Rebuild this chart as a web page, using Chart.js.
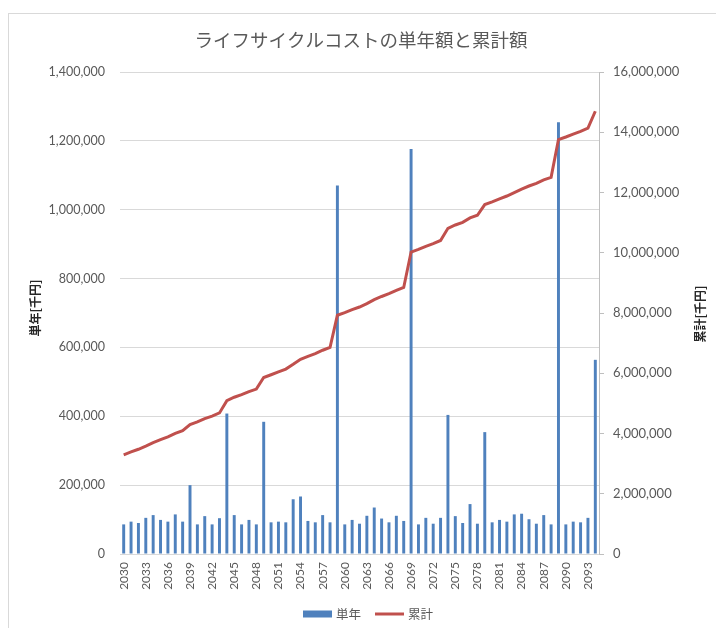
<!DOCTYPE html>
<html>
<head>
<meta charset="utf-8">
<script src="https://cdn.jsdelivr.net/npm/chart.js@4/dist/chart.umd.min.js"></script>
<style>
  html, body { margin: 0; padding: 0; background: #ffffff; }
  #wrap { position: absolute; left: 0; top: 0; width: 716px; height: 628px; }
  #frame { position: absolute; left: 8px; top: 13px; width: 800px; height: 700px;
           border-left: 1px solid #d9d9d9; border-top: 1px solid #d9d9d9; box-sizing: border-box; }
  canvas { position: absolute; left: 0; top: 0; }
</style>
</head>
<body>
<div id="wrap">
  <div id="frame"></div>
  <canvas id="c" width="716" height="628"></canvas>
</div>
<script>
const chartTitle = 'ライフサイクルコストの単年額と累計額';
const leftAxisTitle = '単年[千円]';
const rightAxisTitle = '累計[千円]';
const seriesNames = ['単年', '累計'];

const years = [
  2030,2031,2032,2033,2034,2035,2036,2037,2038,2039,
  2040,2041,2042,2043,2044,2045,2046,2047,2048,2049,
  2050,2051,2052,2053,2054,2055,2056,2057,2058,2059,
  2060,2061,2062,2063,2064,2065,2066,2067,2068,2069,
  2070,2071,2072,2073,2074,2075,2076,2077,2078,2079,
  2080,2081,2082,2083,2084,2085,2086,2087,2088,2089,
  2090,2091,2092,2093,2094
];

const singleYear = [
  86000, 94000, 90000, 105000, 113000, 99000, 94000, 115000, 94000, 200000,
  86000, 110000, 86000, 104000, 408000, 113000, 86000, 99000, 86000, 384000,
  92000, 94000, 92000, 159000, 167000, 96000, 92000, 113000, 92000, 1070000,
  86000, 99000, 88000, 111000, 135000, 103000, 92000, 111000, 96000, 1176000,
  86000, 105000, 88000, 105000, 404000, 110000, 90000, 145000, 88000, 354000,
  92000, 99000, 94000, 115000, 117000, 101000, 88000, 113000, 86000, 1254000,
  86000, 94000, 92000, 105000, 564000
];

const cumulative = [
  3293000, 3387000, 3477000, 3582000, 3695000, 3794000, 3888000, 4003000, 4097000, 4297000,
  4383000, 4493000, 4579000, 4683000, 5091000, 5204000, 5290000, 5389000, 5475000, 5859000,
  5951000, 6045000, 6137000, 6296000, 6463000, 6559000, 6651000, 6764000, 6856000, 7926000,
  8012000, 8111000, 8199000, 8310000, 8445000, 8548000, 8640000, 8751000, 8847000, 10023000,
  10109000, 10214000, 10302000, 10407000, 10811000, 10921000, 11011000, 11156000, 11244000, 11598000,
  11690000, 11789000, 11883000, 11998000, 12115000, 12216000, 12304000, 12417000, 12503000, 13757000,
  13843000, 13937000, 14029000, 14134000, 14698000
];

const leftMax = 1400000, leftStep = 200000;
const rightMax = 16000000, rightStep = 2000000;

const BLUE = '#4F81BD';
const RED = '#C0504D';
const TXT = '#595959';
const LATIN = 'Lato, "Noto Sans CJK JP", sans-serif';
const CJK = '"Noto Sans CJK JP", sans-serif';

const fmt = v => Number(v).toLocaleString('en-US');

const decor = {
  id: 'decor',
  afterDraw(chart) {
    const ctx = chart.ctx;
    ctx.save();
    // title
    ctx.fillStyle = TXT;
    ctx.font = '18.5px ' + CJK;
    ctx.textAlign = 'center';
    ctx.textBaseline = 'middle';
    ctx.fillText(chartTitle, 361, 40);
    // axis titles
    ctx.fillStyle = '#262626';
    ctx.font = 'bold 12px ' + CJK;
    ctx.save();
    ctx.translate(35, 308);
    ctx.rotate(-Math.PI / 2);
    ctx.fillText(leftAxisTitle, 0, 0);
    ctx.restore();
    ctx.save();
    ctx.translate(700, 314);
    ctx.rotate(-Math.PI / 2);
    ctx.fillText(rightAxisTitle, 0, 0);
    ctx.restore();
    // legend
    const ly = 614;
    ctx.fillStyle = BLUE;
    ctx.fillRect(303, ly - 3.5, 29, 7);
    ctx.fillStyle = TXT;
    ctx.font = '12.5px ' + CJK;
    ctx.textAlign = 'left';
    ctx.fillText(seriesNames[0], 336, ly);
    ctx.strokeStyle = RED;
    ctx.lineWidth = 3;
    ctx.beginPath();
    ctx.moveTo(375, ly);
    ctx.lineTo(404, ly);
    ctx.stroke();
    ctx.fillText(seriesNames[1], 408, ly);
    ctx.restore();
  }
};

new Chart(document.getElementById('c'), {
  data: {
    labels: years.map(String),
    datasets: [
      {
        type: 'line',
        label: seriesNames[1],
        data: cumulative,
        yAxisID: 'y1',
        borderColor: RED,
        backgroundColor: RED,
        borderWidth: 3,
        pointRadius: 0,
        tension: 0,
        order: 0
      },
      {
        type: 'bar',
        label: seriesNames[0],
        data: singleYear,
        yAxisID: 'y',
        backgroundColor: BLUE,
        barPercentage: 0.4,
        categoryPercentage: 1.0,
        order: 1
      }
    ]
  },
  options: {
    responsive: false,
    animation: false,
    devicePixelRatio: 1,
    layout: { padding: { top: 72, bottom: 34, left: 0, right: 0 } },
    plugins: {
      legend: { display: false },
      title: { display: false },
      tooltip: { enabled: false }
    },
    scales: {
      x: {
        offset: true,
        grid: { display: false, drawTicks: false },
        border: { display: true, color: '#d9d9d9', width: 1 },
        ticks: {
          autoSkip: false,
          maxRotation: 90,
          minRotation: 90,
          padding: 8,
          color: TXT,
          font: { family: LATIN, size: 12 },
          callback: function (val, idx) { return idx % 3 === 0 ? this.getLabelForValue(val) : ''; }
        },
        afterFit(scale) { scale.height = 40; }
      },
      y: {
        position: 'left',
        min: 0,
        max: leftMax,
        grid: { color: '#d9d9d9', drawTicks: false },
        border: { display: false },
        ticks: {
          stepSize: leftStep,
          padding: 15,
          color: TXT,
          font: { family: LATIN, size: 12.5 },
          callback: v => fmt(v)
        },
        afterFit(scale) { scale.width = 120; }
      },
      y1: {
        position: 'right',
        min: 0,
        max: rightMax,
        grid: { drawOnChartArea: false, drawTicks: true, tickLength: 5, color: '#bfbfbf' },
        border: { display: true, color: '#bfbfbf', width: 1 },
        ticks: {
          stepSize: rightStep,
          padding: 9,
          color: TXT,
          font: { family: LATIN, size: 13 },
          callback: v => fmt(v)
        },
        afterFit(scale) { scale.width = 716 - 599; }
      }
    }
  },
  plugins: [decor]
});
</script>
</body>
</html>
